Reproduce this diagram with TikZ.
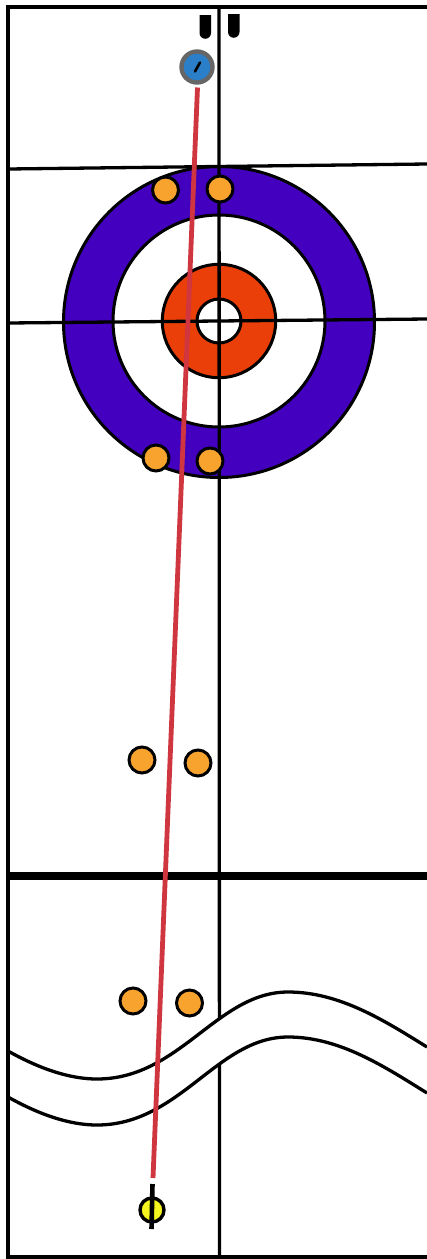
\documentclass[tikz,border=0pt]{standalone}
\definecolor{ringblue}{HTML}{4300BE}
\definecolor{ringred}{HTML}{EA3F08}
\definecolor{stoneorange}{HTML}{F7A32E}
\definecolor{stoneblue}{HTML}{2A7FC8}
\definecolor{stonegray}{HTML}{666666}
\definecolor{stoneyellow}{HTML}{F4F41E}
\definecolor{pathred}{HTML}{CF3640}
\tikzset{
  rinkline/.style={draw=black,line width=3.3pt},
  ringdisc/.style={circle,draw=black,line width=3pt,inner sep=0pt,outer sep=0pt},
  orangestone/.style={circle,draw=black,fill=stoneorange,line width=3pt,minimum size=26pt,inner sep=0pt},
  hack/.style={fill=black},
}
\begin{document}
\begin{tikzpicture}[x=1pt,y=-1pt]
\useasboundingbox (0,0) rectangle (427,1259);
\fill[white] (0,0) rectangle (427,1259);
% house
\node[ringdisc,fill=ringblue,minimum size=311pt] (r1) at (219,322) {};
\node[ringdisc,fill=white,minimum size=212pt] (r2) at (219,321) {};
\node[ringdisc,fill=ringred,minimum size=113.5pt] (r3) at (219,321) {};
\node[ringdisc,fill=white,minimum size=44pt] (r4) at (219,321) {};
% sheet lines
\coordinate (ct) at (219,7);
\coordinate (cb) at (219.5,1257);
\draw[rinkline] (ct) -- (cb);
\coordinate (hl) at (8,169);
\coordinate (hr) at (427,164);
\draw[rinkline] (hl) -- (hr);
\coordinate (tl) at (8,323);
\coordinate (tr) at (427,319);
\draw[rinkline] (tl) -- (tr);
\coordinate (bl) at (8,876);
\coordinate (br) at (427,876);
\draw[draw=black,line width=8pt] (bl) -- (br);
% wavy band
\fill[white] (8,1051) .. controls (40,1069) and (70,1079) .. (97,1079)
  .. controls (180,1079) and (217,992) .. (288,992)
  .. controls (340,992) and (385,1021) .. (427,1047)
  -- (427,1093)
  .. controls (385,1067) and (340,1037) .. (288,1037)
  .. controls (217,1037) and (180,1125) .. (97,1125)
  .. controls (70,1125) and (40,1115) .. (8,1097) -- cycle;
\draw[rinkline] (8,1051) .. controls (40,1069) and (70,1079) .. (97,1079)
  .. controls (180,1079) and (217,992) .. (288,992)
  .. controls (340,992) and (385,1021) .. (427,1047);
\draw[rinkline] (8,1097) .. controls (40,1115) and (70,1125) .. (97,1125)
  .. controls (180,1125) and (217,1037) .. (288,1037)
  .. controls (340,1037) and (385,1067) .. (427,1093);
% walls
\draw[draw=black,line width=3.4pt] (427,7) -- (8,7) -- (8,1257) -- (427,1257);
% hacks
\fill[hack] (199.5,15) -- (211,15) -- (211,33) arc[start angle=0,end angle=180,radius=5.75] -- cycle;
\fill[hack] (228,14) -- (239.5,14) -- (239.5,32) arc[start angle=0,end angle=180,radius=5.75] -- cycle;
% stones
\node[orangestone] (s1) at (165.5,190) {};
\node[orangestone] (s2) at (220,189) {};
\node[orangestone] (s3) at (156,458) {};
\node[orangestone] (s4) at (210,461) {};
\node[orangestone] (s5) at (142,760) {};
\node[orangestone] (s6) at (198,763) {};
\node[orangestone] (s7) at (133,1001) {};
\node[orangestone] (s8) at (189.5,1003) {};
% delivered stone
\node[circle,draw=stonegray,fill=stoneblue,line width=4.4pt,minimum size=31pt,inner sep=0pt] (blue) at (197,67) {};
\coordinate (bh1) at (195,71.5);
\coordinate (bh2) at (200,62.5);
\draw[black,line width=2.6pt,line cap=round] (bh1) -- (bh2);
\node[circle,draw=black,fill=stoneyellow,line width=3.4pt,minimum size=24pt,inner sep=0pt] (yellow) at (152,1210) {};
\coordinate (yt) at (152.5,1184);
\coordinate (yb) at (151.5,1229);
\draw[black,line width=4.6pt] (yt) -- (yb);
% path
\coordinate (pa) at (197.5,87.5);
\coordinate (pb) at (153,1178);
\draw[pathred,line width=4.8pt] (pa) -- (pb);
\end{tikzpicture}
\end{document}
